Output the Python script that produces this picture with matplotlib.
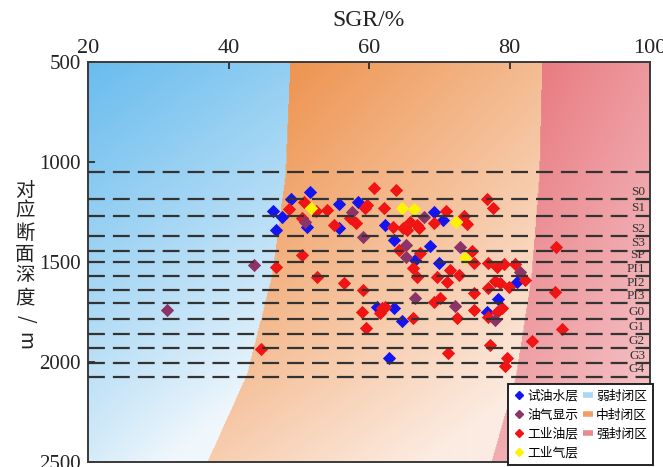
import matplotlib
matplotlib.use("Agg")
import matplotlib.pyplot as plt
import numpy as np
from matplotlib.lines import Line2D

# boundaries between sealing zones (SGR at given depth)
zone_depth = [500, 1065, 1565, 2065, 2500]
blue_orange_sgr = [48.8, 48.1, 46.2, 42.6, 37.0]
orange_red_sgr = [84.7, 84.3, 83.2, 81.0, 77.5]

# layer tops (dashed lines) and their names
layer_depth = [1050, 1187, 1268, 1370, 1443, 1500, 1570, 1640, 1707, 1787, 1862, 1932, 2005, 2073]
layer_names = ["", "S0", "S1", "S2", "S3", "SP", "PI1", "PI2", "PI3", "G0", "G1", "G2", "G3", "G4"]

blue_sgr = [51.6, 48.9, 46.4, 47.6, 46.7, 51.2, 55.7, 55.7, 58.5, 62.3, 63.5, 68.7, 69.9, 70.6,
            69.3, 66.6, 61.1, 63.5, 64.7, 62.8, 78.4, 76.8, 81.0]
blue_depth = [1148, 1185, 1245, 1273, 1340, 1323, 1212, 1328, 1198, 1315, 1390, 1418, 1507, 1290,
              1252, 1490, 1723, 1728, 1795, 1978, 1685, 1748, 1602]

purple_sgr = [31.2, 43.6, 50.9, 57.6, 59.2, 65.2, 65.2, 67.8, 73.0, 66.6, 72.3, 78.0, 81.5]
purple_depth = [1740, 1515, 1298, 1248, 1373, 1415, 1473, 1273, 1423, 1678, 1718, 1790, 1552]

red_sgr = [60.7, 63.9, 48.6, 50.8, 52.4, 54.0, 50.5, 55.0, 57.3, 58.1, 59.7, 59.5, 62.1, 63.4,
           64.9, 65.8, 66.8, 65.4, 67.1, 69.2, 70.9, 73.5, 73.9, 76.8, 77.7, 46.7, 50.5, 52.6,
           56.4, 59.2, 59.0, 59.6, 61.8, 62.3, 61.6, 66.3, 64.2, 67.3, 66.3, 66.8, 69.7, 71.1,
           71.6, 72.8, 69.2, 70.1, 74.6, 74.9, 74.9, 74.9, 72.5, 77.0, 78.2, 79.2, 80.8, 77.9,
           77.0, 78.7, 79.9, 82.2, 78.9, 78.2, 77.0, 71.3, 77.2, 79.6, 79.4, 83.2, 86.6, 86.5,
           87.5, 44.6]
red_depth = [1128, 1140, 1237, 1198, 1245, 1240, 1278, 1315, 1282, 1307, 1215, 1232, 1228, 1323,
             1328, 1298, 1315, 1340, 1332, 1307, 1245, 1268, 1312, 1185, 1232, 1523, 1465, 1573,
             1607, 1640, 1748, 1832, 1732, 1723, 1757, 1778, 1440, 1457, 1532, 1573, 1573, 1598,
             1540, 1565, 1698, 1682, 1445, 1507, 1657, 1740, 1778, 1507, 1523, 1512, 1512, 1595,
             1632, 1607, 1623, 1590, 1728, 1752, 1773, 1957, 1915, 1978, 2018, 1893, 1423, 1652,
             1835, 1935]

yellow_sgr = [51.7, 64.7, 66.4, 72.4, 73.7]
yellow_depth = [1228, 1232, 1235, 1298, 1478]

SERIF = "Liberation Serif"
CJK = ["Noto Sans CJK SC", "DejaVu Sans"]

# zone colours: (dark corner, light corner, weight of x, weight of depth)
zone_style = {
    "blue": ((105, 188, 238), (240, 247, 252), 0.3, 0.8),
    "orange": ((238, 148, 80), (252, 236, 226), 0.45, 0.65),
    "red": ((232, 124, 130), (247, 205, 208), 0.35, 0.6),
}


def background():
    xs = np.linspace(20, 100, 640)
    ds = np.linspace(500, 2500, 400)
    X, D = np.meshgrid(xs, ds)
    b1 = np.interp(ds, zone_depth, blue_orange_sgr)[:, None]
    b2 = np.interp(ds, zone_depth, orange_red_sgr)[:, None]
    df = (D - 500) / 2000.0
    img = np.zeros(X.shape + (3,))
    parts = [("blue", X < b1, 20.0, b1), ("orange", (X >= b1) & (X < b2), b1, b2),
             ("red", X >= b2, b2, 100.0)]
    for name, mask, lo, hi in parts:
        c0, c1, wx, wd = zone_style[name]
        xf = (X - lo) / (hi - lo)
        t = np.clip(wx * xf + wd * df, 0, 1)[..., None]
        col = (np.array(c0) + (np.array(c1) - np.array(c0)) * t) / 255.0
        img[mask] = col[mask]
    return img


fig = plt.figure(figsize=(6.63, 4.67), dpi=100)
ax = fig.add_axes([88 / 663, 5 / 467, 562 / 663, 400 / 467])

ax.imshow(background(), extent=(20, 100, 2500, 500), origin="upper", aspect="auto", zorder=0)

ms = 46
ax.scatter(blue_sgr, blue_depth, s=ms, marker="D", color="#1414f0", linewidths=0, zorder=3)
ax.scatter(purple_sgr, purple_depth, s=ms, marker="D", color="#8c3468", linewidths=0, zorder=4)
ax.scatter(red_sgr, red_depth, s=ms, marker="D", color="#f01414", linewidths=0, zorder=3.5)
ax.scatter(yellow_sgr, yellow_depth, s=ms, marker="D", color="#fff200", linewidths=0, zorder=3.6)

for d, name in zip(layer_depth, layer_names):
    ax.axhline(d, color="#333333", lw=1.6, dashes=(7.6, 3.6), zorder=5)
    if name:
        ax.text(99.3, d - 6, name, ha="right", va="bottom", fontsize=9.5,
                family=SERIF, color="#333333", zorder=6)

ax.set_xlim(20, 100)
ax.set_ylim(2500, 500)
ax.xaxis.tick_top()
ax.xaxis.set_label_position("top")
ax.set_xticks([20, 40, 60, 80, 100])
ax.set_yticks([500, 1000, 1500, 2000, 2500])
ax.tick_params(axis="x", direction="in", length=5, width=1.2, labelsize=16, pad=3, colors="#222222")
ax.tick_params(axis="y", direction="in", length=5, width=1.2, labelsize=15, pad=5, colors="#222222")
for lab in ax.get_xticklabels() + ax.get_yticklabels():
    lab.set_family(SERIF)
ax.set_xlabel("SGR/%", fontsize=17, family=SERIF, labelpad=9, color="#222222")
for sp in ax.spines.values():
    sp.set_color("#3a3a3a")
    sp.set_linewidth(1.4)

# vertical y label, one glyph per line
ylab = "对应断面深度/m"
for i, ch in enumerate(ylab):
    rot = -90 if ch in "/m" else 0
    fig.text(25 / 663, 1 - (190 + i * 21.5) / 467, ch, fontsize=14, family=CJK,
             rotation=rot, ha="center", va="center", color="#222222")

handles = [
    Line2D([], [], ls="none", marker="D", ms=4.5, color="#1414f0", label="试油水层"),
    Line2D([], [], ls="none", marker="D", ms=4.5, color="#8c3468", label="油气显示"),
    Line2D([], [], ls="none", marker="D", ms=4.5, color="#f01414", label="工业油层"),
    Line2D([], [], ls="none", marker="D", ms=4.5, color="#fff200", label="工业气层"),
    Line2D([], [], lw=4, solid_capstyle="butt", color="#a8d8f4", label="弱封闭区"),
    Line2D([], [], lw=4, solid_capstyle="butt", color="#f0a066", label="中封闭区"),
    Line2D([], [], lw=4, solid_capstyle="butt", color="#e88a8e", label="强封闭区"),
]
leg = ax.legend(handles=handles, ncol=2, loc="lower right", bbox_to_anchor=(1.005, -0.008),
                borderaxespad=0, prop={"family": CJK, "size": 9.2}, handlelength=0.8,
                handletextpad=0.25, columnspacing=0.35, labelspacing=0.46, borderpad=0.45,
                fancybox=False, framealpha=1.0, edgecolor="#222222")
leg.get_frame().set_linewidth(1.4)
leg.set_zorder(10)

fig.savefig("out.png", dpi=100)
